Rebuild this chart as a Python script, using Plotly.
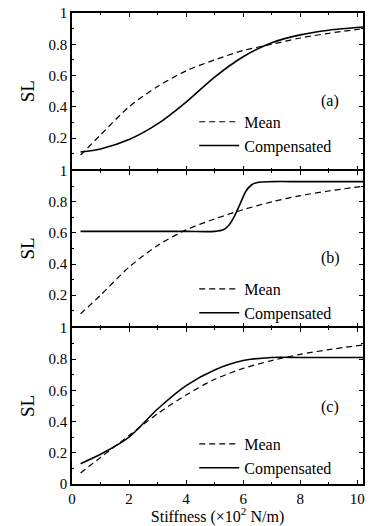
import plotly.graph_objects as go

# ---- data ----
stiff_a = [0.3, 1, 2, 3, 4, 5, 6, 7, 8, 9, 10.2]
mean_a = [0.09, 0.22, 0.40, 0.53, 0.63, 0.70, 0.76, 0.80, 0.84, 0.87, 0.90]
comp_a = [0.11, 0.13, 0.19, 0.29, 0.43, 0.59, 0.72, 0.81, 0.86, 0.89, 0.91]

stiff_b_mean = [0.3, 1, 2, 3, 4, 5, 6, 7, 8, 9, 10.2]
mean_b = [0.08, 0.20, 0.38, 0.52, 0.62, 0.69, 0.75, 0.80, 0.84, 0.87, 0.90]
stiff_b_comp = [0.3, 2, 4, 5.0, 5.3, 5.5, 5.7, 5.9, 6.1, 6.3, 6.5, 7, 8, 9, 10.2]
comp_b = [0.61, 0.61, 0.61, 0.61, 0.62, 0.65, 0.71, 0.79, 0.87, 0.91, 0.925, 0.93, 0.93, 0.93, 0.93]

stiff_c = [0.3, 1, 2, 3, 4, 5, 6, 7, 8, 9, 10.2]
mean_c = [0.07, 0.17, 0.31, 0.45, 0.57, 0.67, 0.74, 0.79, 0.83, 0.86, 0.89]
comp_c = [0.13, 0.19, 0.30, 0.48, 0.63, 0.73, 0.79, 0.81, 0.81, 0.81, 0.81]

panel_labels = ["(a)", "(b)", "(c)"]
x_ticks = [0, 2, 4, 6, 8, 10]
y_ticks_upper = [0.2, 0.4, 0.6, 0.8, 1]
y_ticks_lower = [0, 0.2, 0.4, 0.6, 0.8, 1]

FONT = "Liberation Serif"
# page body has an 8px margin, so the figure is sized/offset to compensate
W, H = 365, 518
ML, MR, MT, MB = 64, 10, 5, 42
LW = 1.5
plot_h = H - MT - MB
px = LW / plot_h  # one line width in paper units

# domains arranged so that adjacent frame lines coincide
h1, h2 = 1 / 3, 2 / 3
domains = [
    [h2 + px / 2, 1.0],
    [h1 + px / 2, h2 - px / 2],
    [0.0, h1 - px / 2],
]

fig = go.Figure()

panels = [
    (stiff_a, mean_a, stiff_a, comp_a),
    (stiff_b_mean, mean_b, stiff_b_comp, comp_b),
    (stiff_c, mean_c, stiff_c, comp_c),
]
legend_names = ["legend", "legend2", "legend3"]

for i, (xm, ym, xc, yc) in enumerate(panels):
    sfx = "" if i == 0 else str(i + 1)
    fig.add_trace(go.Scatter(x=xm, y=ym, mode="lines", name="Mean",
                             xaxis="x" + sfx, yaxis="y" + sfx,
                             line=dict(color="black", width=1.2, dash="6px,4px", shape="spline", smoothing=0.8),
                             legend=legend_names[i]))
    fig.add_trace(go.Scatter(x=xc, y=yc, mode="lines", name="Compensated",
                             xaxis="x" + sfx, yaxis="y" + sfx,
                             line=dict(color="black", width=1.6, shape="spline", smoothing=0.8),
                             legend=legend_names[i]))

axis_common = dict(showline=True, linecolor="black", linewidth=LW, mirror="allticks",
                   ticks="inside", ticklen=4, tickcolor="black", tickwidth=1,
                   showgrid=False, zeroline=False, automargin=False,
                   ticklabeloverflow="allow",
                   tickfont=dict(family=FONT, size=15, color="black"))

layout_axes = {}
for i in range(3):
    sfx = "" if i == 0 else str(i + 1)
    xa = dict(range=[0, 10.2], tickvals=x_ticks, anchor="y" + sfx,
              domain=[0, 1],
              minor=dict(ticks="inside", ticklen=2, tickcolor="black", dtick=1, tick0=0),
              showticklabels=(i == 2), **axis_common)
    if i != 0:
        xa["matches"] = "x"
    if i == 2:
        xa["title"] = dict(text="Stiffness (\u00d710<sup>2</sup> N/m)",
                           font=dict(family=FONT, size=16, color="black"), standoff=3)
    ya = dict(range=[0, 1], anchor="x" + sfx, domain=domains[i],
              tickvals=(y_ticks_lower if i == 2 else y_ticks_upper),
              minor=dict(ticks="inside", ticklen=2, tickcolor="black", dtick=0.1, tick0=0),
              title=dict(text="SL", font=dict(family=FONT, size=19, color="black"), standoff=9),
              **axis_common)
    layout_axes["xaxis" + sfx] = xa
    layout_axes["yaxis" + sfx] = ya
fig.update_layout(**layout_axes)

# panel tags
tag_y = [0.44, 0.44, 0.49]
for i, lab in enumerate(panel_labels):
    sfx = "" if i == 0 else str(i + 1)
    fig.add_annotation(x=9.05, y=tag_y[i], xref="x" + sfx, yref="y" + sfx,
                       text=lab, showarrow=False,
                       font=dict(family=FONT, size=16, color="black"))

leg_common = dict(bgcolor="rgba(0,0,0,0)", borderwidth=0, xanchor="left", yanchor="top",
                  font=dict(family=FONT, size=16, color="black"),
                  tracegroupgap=0, itemwidth=40)
fig.update_layout(
    legend=dict(x=0.42, y=0.805, **leg_common),
    legend2=dict(x=0.42, y=0.450, **leg_common),
    legend3=dict(x=0.42, y=0.121, **leg_common),
)

fig.update_layout(width=W, height=H,
                  margin=dict(l=ML, r=MR, t=MT, b=MB),
                  paper_bgcolor="white", plot_bgcolor="white",
                  font=dict(family=FONT, color="black"))

fig.write_html("out.html")
